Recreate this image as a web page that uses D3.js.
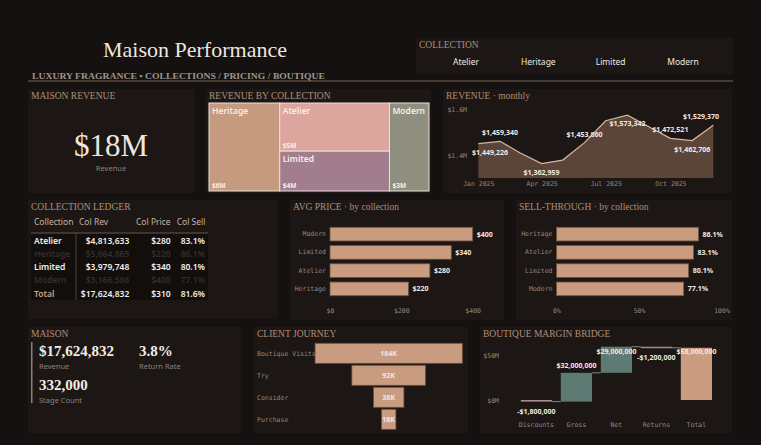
<!DOCTYPE html>
<html>
<head>
<meta charset="utf-8">
<script src="https://cdn.jsdelivr.net/npm/d3@7"></script>
<style>
  body { margin: 0; background: #141110; }
  svg { display: block; }
  .ptitle { font-family: "Liberation Serif", serif; font-size: 9.5px; fill: #b08e78; }
  .mono { font-family: "DejaVu Sans Mono", monospace; font-size: 6.5px; fill: #8f8780; }
  .lbl { font-family: "Noto Sans", sans-serif; font-size: 7px; font-weight: 700; fill: #f1e9e1; }
  .sans { font-family: "Noto Sans", sans-serif; }
  .serif { font-family: "Liberation Serif", serif; }
</style>
</head>
<body>
<div id="chart"></div>
<script>
// ---- data ----
const collections = ["Atelier", "Heritage", "Limited", "Modern"];
const colRevenue = [4813633, 5664865, 3979748, 3166586];
const colPrice = [280, 220, 340, 400];
const colSell = [83.1, 86.1, 80.1, 77.1];
const highlighted = ["Atelier", "Limited"];
const totalRevenue = 17624832, totalPrice = 310, totalSell = 81.6;
const returnRate = 3.8;

const treeColumns = [["Heritage"], ["Atelier", "Limited"], ["Modern"]];

const months = ["2025-01","2025-02","2025-03","2025-04","2025-05","2025-06",
                "2025-07","2025-08","2025-09","2025-10","2025-11","2025-12"];
const monthlyRevenue = [1449226, 1459340, 1410000, 1362959, 1378000, 1453860,
                        1549000, 1573342, 1522000, 1472521, 1462706, 1529370];
const labelSide = ["below","above",null,"below",null,"above",null,"below",null,"above","below","above"];

const priceOrder = ["Modern", "Limited", "Atelier", "Heritage"];
const sellOrder = ["Heritage", "Atelier", "Limited", "Modern"];

const journeyStages = ["Boutique Visits", "Try", "Consider", "Purchase"];
const journeyCounts = [184000, 92000, 38000, 18000];

const bridgeSteps = ["Discounts", "Gross", "Net", "Returns"];
const bridgeValues = [-1800000, 32000000, 29000000, -1200000];

// ---- colours ----
const panelBg = "#1c1714";
const tan = "#c99c80";
const treeColor = { Heritage: "#c59a7e", Atelier: "#dca69f", Limited: "#a27d8d", Modern: "#8f8f80" };

const W = 761, H = 445;
const svg = d3.select("#chart").append("svg").attr("width", W).attr("height", H);
svg.append("rect").attr("width", W).attr("height", H).attr("fill", "#141110");

function panel(x, y, w, h, title) {
  svg.append("rect").attr("x", x).attr("y", y).attr("width", w).attr("height", h).attr("fill", panelBg);
  if (title) svg.append("text").attr("class", "ptitle").attr("x", x + 3).attr("y", y + 9.5).text(title);
}
const fmtM = d => "$" + d3.format(",")(d);
function styleAxis(a) {
  a.select(".domain").remove();
  a.selectAll("text").attr("class", "mono").attr("font-family", null).attr("font-size", null);
}

// ---- header ----
svg.append("text").attr("class", "serif").attr("x", 195).attr("y", 56.5)
  .attr("text-anchor", "middle").attr("font-size", 22).attr("fill", "#ece6df")
  .text("Maison Performance");
svg.append("text").attr("class", "serif").attr("x", 32).attr("y", 79)
  .attr("font-size", 9).attr("font-weight", 700).attr("fill", "#9d958c")
  .attr("textLength", 293).attr("lengthAdjust", "spacingAndGlyphs")
  .text("LUXURY FRAGRANCE  •  COLLECTIONS / PRICING / BOUTIQUE");
svg.append("line").attr("x1", 28).attr("x2", 733).attr("y1", 81).attr("y2", 81)
  .attr("stroke", "#7a6450").attr("stroke-width", 1);

// slicer
panel(416, 38, 317, 36, null);
svg.append("text").attr("class", "ptitle").attr("x", 419).attr("y", 47.5).text("COLLECTION");
const xs = d3.scalePoint().domain(collections).range([466, 683]);
svg.selectAll(".slicer").data(collections).join("text")
  .attr("class", "sans").attr("x", d => xs(d)).attr("y", 65)
  .attr("text-anchor", "middle").attr("font-size", 8.5).attr("fill", "#efe8e1").text(d => d);

// ---- Maison revenue card ----
panel(28, 89, 167, 104, "MAISON REVENUE");
svg.append("text").attr("class", "serif").attr("x", 111).attr("y", 156)
  .attr("text-anchor", "middle").attr("font-size", 31).attr("fill", "#ece6df")
  .text("$" + Math.round(totalRevenue / 1e6) + "M");
svg.append("text").attr("class", "sans").attr("x", 111).attr("y", 171)
  .attr("text-anchor", "middle").attr("font-size", 7.5).attr("fill", "#8a827b").text("Revenue");

// ---- treemap ----
panel(206, 89, 225, 104, "REVENUE BY COLLECTION");
const root = d3.hierarchy({ children: treeColumns.map(col => ({
    children: col.map(n => ({ name: n, value: colRevenue[collections.indexOf(n)] })) })) })
  .sum(d => d.value || 0);
d3.treemap().tile(d3.treemapSliceDice).size([220, 88])(root);
const tg = svg.append("g").attr("transform", "translate(209,103)");
const leaf = tg.selectAll("g").data(root.leaves()).join("g");
leaf.append("rect").attr("x", d => d.x0).attr("y", d => d.y0)
  .attr("width", d => d.x1 - d.x0).attr("height", d => d.y1 - d.y0)
  .attr("fill", d => treeColor[d.data.name]).attr("stroke", "#ece2d8").attr("stroke-width", 1);
leaf.append("text").attr("class", "sans").attr("x", d => d.x0 + 3).attr("y", d => d.y0 + 11)
  .attr("font-size", 8.5).attr("font-weight", 600).attr("fill", "#f6efe8").text(d => d.data.name);
leaf.append("text").attr("class", "sans").attr("x", d => d.x0 + 3).attr("y", d => d.y1 - 3)
  .attr("font-size", 6.5).attr("font-weight", 700).attr("fill", "#f6efe8")
  .text(d => "$" + Math.round(d.value / 1e6) + "M");

// ---- monthly revenue ----
panel(443, 89, 289, 104, "REVENUE · monthly");
const parseM = d3.timeParse("%Y-%m");
const mData = months.map((m, i) => ({ date: parseM(m), v: monthlyRevenue[i], side: labelSide[i] }));
const xM = d3.scaleTime().domain(d3.extent(mData, d => d.date)).range([478.3, 713.3]);
const yM = d3.scaleLinear().domain([1300000, 1600000]).range([178, 109]);
svg.append("path").datum(mData)
  .attr("d", d3.area().x(d => xM(d.date)).y0(yM(1300000)).y1(d => yM(d.v)))
  .attr("fill", "#5b4539");
svg.append("path").datum(mData)
  .attr("d", d3.line().x(d => xM(d.date)).y(d => yM(d.v)))
  .attr("fill", "none").attr("stroke", "#d8b79c").attr("stroke-width", 1.2);
styleAxis(svg.append("g").attr("transform", "translate(0,178)")
  .call(d3.axisBottom(xM).tickValues(months.filter((m, i) => i % 3 === 0).map(parseM))
    .tickFormat(d3.timeFormat("%b %Y")).tickSize(0).tickPadding(3)));
styleAxis(svg.append("g").attr("transform", "translate(467,0)")
  .call(d3.axisLeft(yM).tickValues([1400000, 1600000]).tickFormat(d => "$" + d / 1e6 + "M").tickSize(0).tickPadding(0)));
svg.selectAll(".mlab").data(mData.filter(d => d.side)).join("text")
  .attr("class", "lbl")
  .attr("x", d => Math.max(490, Math.min(701, xM(d.date))))
  .attr("y", d => yM(d.v) + (d.side === "above" ? -6 : 11))
  .attr("text-anchor", "middle").text(d => fmtM(d.v));

// ---- collection ledger ----
panel(28, 200, 250, 119, "COLLECTION LEDGER");
const hdr = [["Collection", 34], ["Col Rev", 79], ["Col Price", 136], ["Col Sell", 176.7]];
svg.selectAll(".hdr").data(hdr).join("text").attr("class", "sans")
  .attr("x", d => d[1]).attr("y", 225).attr("font-size", 8.5).attr("fill", "#c9b3a3").text(d => d[0]);
svg.append("rect").attr("x", 31).attr("y", 233).attr("width", 177).attr("height", 67).attr("fill", "#110e0c");
svg.append("line").attr("x1", 31).attr("x2", 208).attr("y1", 233).attr("y2", 233).attr("stroke", "#6b5646");
svg.append("line").attr("x1", 76).attr("x2", 76).attr("y1", 233).attr("y2", 300).attr("stroke", "#4e4038");
const rows = collections.map((c, i) => ({
  name: c, cells: [fmtM(colRevenue[i]), "$" + colPrice[i], colSell[i].toFixed(1) + "%"],
  on: highlighted.includes(c), total: false }));
rows.push({ name: "Total", cells: [fmtM(totalRevenue), "$" + totalPrice, totalSell.toFixed(1) + "%"], on: true, total: true });
const rowY = d3.scalePoint().domain(rows.map(r => r.name)).range([243.7, 296.7]);
const colRight = [129.3, 170.7, 205];
const rg = svg.selectAll(".row").data(rows).join("g").attr("transform", d => `translate(0,${rowY(d.name)})`);
rg.append("text").attr("class", "sans").attr("x", 34).attr("font-size", 8.5).attr("font-weight", 600)
  .attr("fill", d => d.total ? "#c9a283" : d.on ? "#f4eee8" : "#352f2b").text(d => d.name);
colRight.forEach((cx, j) => {
  rg.append("text").attr("class", "sans").attr("x", cx).attr("text-anchor", "end")
    .attr("font-size", 8.5).attr("font-weight", 600)
    .attr("fill", d => d.on ? "#f4eee8" : "#352f2b").text(d => d.cells[j]);
});

// ---- horizontal bar charts ----
function hbars(px, pw, title, order, valueOf, x0, x1, maxV, ticks, tickFmt, labFmt) {
  panel(px, 200, pw, 120, title);
  const y = d3.scaleBand().domain(order).range([225, 298]).paddingInner(0.25).paddingOuter(0.125);
  const x = d3.scaleLinear().domain([0, maxV]).range([x0, x1]);
  svg.selectAll(null).data(order).join("rect")
    .attr("x", x(0)).attr("y", d => y(d)).attr("width", d => x(valueOf(d)) - x(0)).attr("height", y.bandwidth())
    .attr("fill", tan).attr("stroke", "#6e4f3f").attr("stroke-width", 0.8);
  svg.selectAll(null).data(order).join("text").attr("class", "lbl")
    .attr("x", d => x(valueOf(d)) + 4).attr("y", d => y(d) + y.bandwidth() / 2 + 2.5).text(d => labFmt(valueOf(d)));
  styleAxis(svg.append("g").attr("transform", `translate(${x0 - 4},0)`)
    .call(d3.axisLeft(y).tickSize(0).tickPadding(0)));
  styleAxis(svg.append("g").attr("transform", "translate(0,305)")
    .call(d3.axisBottom(x).tickValues(ticks).tickFormat(tickFmt).tickSize(0).tickPadding(3)));
}
hbars(290, 214, "AVG PRICE · by collection", priceOrder, c => colPrice[collections.indexOf(c)],
  330, 472.7, 400, [0, 200, 400], d => "$" + d, v => "$" + v);
hbars(516, 216, "SELL-THROUGH · by collection", sellOrder, c => colSell[collections.indexOf(c)],
  556.5, 721.5, 100, [0, 50, 100], d => d + "%", v => v.toFixed(1) + "%");

// ---- Maison KPI card ----
panel(28, 327, 213, 106, "MAISON");
svg.append("rect").attr("x", 31).attr("y", 342).attr("width", 1.5).attr("height", 61).attr("fill", "#8a7f76");
const kpis = [
  { v: fmtM(totalRevenue), l: "Revenue", x: 39, y: 356 },
  { v: returnRate.toFixed(1) + "%", l: "Return Rate", x: 139, y: 356 },
  { v: d3.format(",")(d3.sum(journeyCounts)), l: "Stage Count", x: 39, y: 390 }];
kpis.forEach(k => {
  svg.append("text").attr("class", "serif").attr("x", k.x).attr("y", k.y)
    .attr("font-size", 15).attr("font-weight", 700).attr("fill", "#f2ece6").text(k.v);
  svg.append("text").attr("class", "sans").attr("x", k.x).attr("y", k.y + 13)
    .attr("font-size", 7.5).attr("fill", "#8a827b").text(k.l);
});

// ---- client journey funnel ----
panel(254, 327, 214, 106, "CLIENT JOURNEY");
const yF = d3.scaleBand().domain(journeyStages).range([342.3, 430.3]).paddingInner(0.09).paddingOuter(0.045);
const wF = d3.scaleLinear().domain([0, d3.max(journeyCounts)]).range([0, 147.3]);
const fcx = 388.7;
svg.selectAll(".fname").data(journeyStages).join("text").attr("class", "mono")
  .attr("x", 257).attr("y", d => yF(d) + yF.bandwidth() / 2 + 2.3).text(d => d);
svg.selectAll(".fbar").data(journeyStages).join("rect")
  .attr("x", (d, i) => fcx - wF(journeyCounts[i]) / 2).attr("y", d => yF(d))
  .attr("width", (d, i) => wF(journeyCounts[i])).attr("height", yF.bandwidth())
  .attr("fill", tan).attr("stroke", "#6e4f3f").attr("stroke-width", 0.8);
svg.selectAll(".flab").data(journeyStages).join("text").attr("class", "lbl")
  .attr("x", fcx).attr("y", d => yF(d) + yF.bandwidth() / 2 + 2.5).attr("text-anchor", "middle")
  .text((d, i) => journeyCounts[i] / 1000 + "K");

// ---- boutique margin bridge ----
panel(480, 327, 252, 106, "BOUTIQUE MARGIN BRIDGE");
let run = 0;
const bridge = bridgeSteps.map((s, i) => {
  const v = bridgeValues[i], a = run; run += v;
  return { s, a, b: run, v, kind: v < 0 ? "dec" : "inc" };
});
bridge.push({ s: "Total", a: 0, b: run, v: run, kind: "total" });
const xB = d3.scaleBand().domain(bridge.map(d => d.s)).range([516.4, 716.4]).paddingInner(0.22).paddingOuter(0.11);
const yB = d3.scaleLinear().domain([0, 50000000]).range([400, 355]);
const bColor = { dec: "#a88a8e", inc: "#5e7b73", total: tan };
bridge.slice(0, -1).forEach((d, i) => {
  svg.append("line").attr("x1", xB(d.s) + xB.bandwidth()).attr("x2", xB(bridge[i + 1].s))
    .attr("y1", yB(d.b)).attr("y2", yB(d.b)).attr("stroke", "#8c8580").attr("stroke-width", 1);
});
svg.selectAll(".bbar").data(bridge).join("rect")
  .attr("x", d => xB(d.s)).attr("width", xB.bandwidth())
  .attr("y", d => yB(Math.max(d.a, d.b))).attr("height", d => Math.max(1.5, Math.abs(yB(d.a) - yB(d.b))))
  .attr("fill", d => bColor[d.kind]);
svg.selectAll(".blab").data(bridge).join("text").attr("class", "lbl").attr("text-anchor", "middle")
  .attr("x", d => xB(d.s) + xB.bandwidth() / 2)
  .attr("y", d => d.v < 0 ? yB(Math.min(d.a, d.b)) + 12 : Math.max(yB(Math.max(d.a, d.b)) - 5, 353.5))
  .text(d => (d.v < 0 ? "-" : "") + fmtM(Math.abs(d.v)));
styleAxis(svg.append("g").attr("transform", "translate(0,418)")
  .call(d3.axisBottom(xB).tickSize(0).tickPadding(4)));
styleAxis(svg.append("g").attr("transform", "translate(499,0)")
  .call(d3.axisLeft(yB).tickValues([0, 50000000]).tickFormat(d => "$" + d / 1e6 + "M").tickSize(0).tickPadding(0)));
</script>
</body>
</html>
